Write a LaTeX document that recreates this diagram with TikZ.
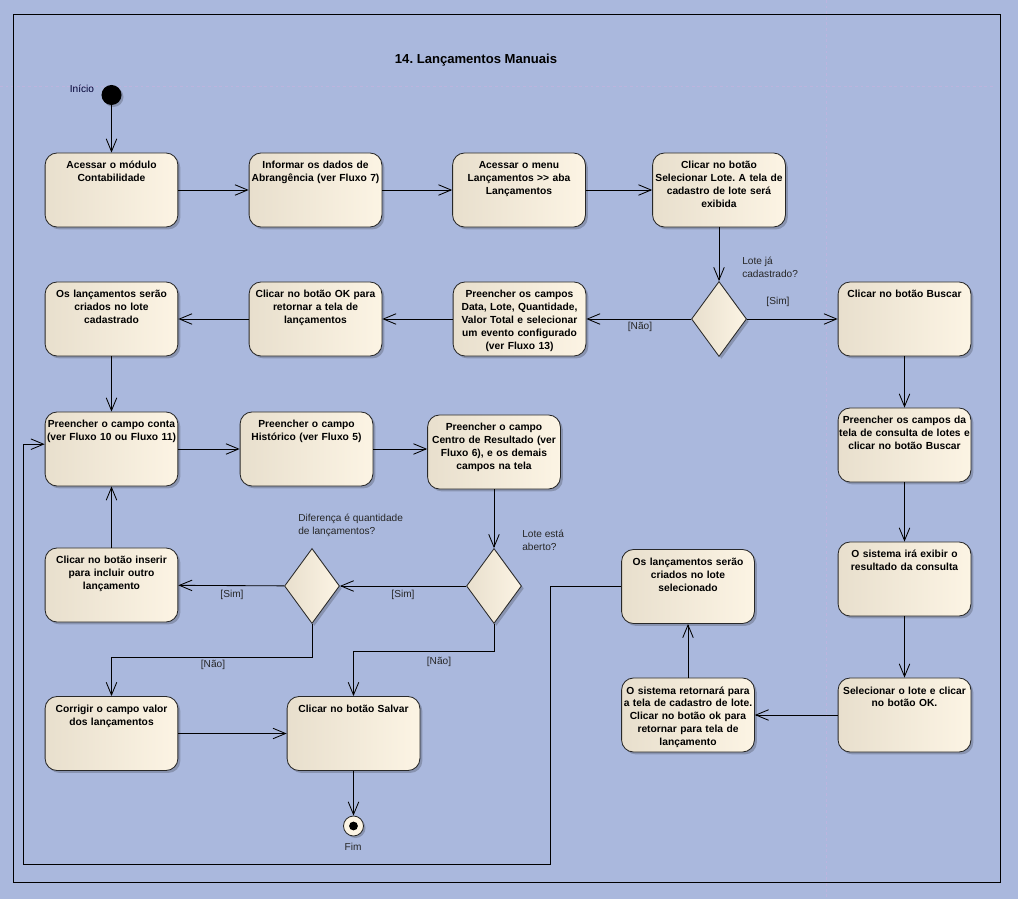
\documentclass[tikz,border=0pt]{standalone}
\usepackage{fontspec}
\setmainfont{Liberation Sans}
\usetikzlibrary{arrows.meta}
\usetikzlibrary{shapes.geometric}
\usetikzlibrary{shadows}
\frenchspacing

\definecolor{bgblue}{RGB}{170,184,221}
\definecolor{gridline}{RGB}{188,180,222}
\definecolor{actleft}{RGB}{232,223,205}
\definecolor{actright}{RGB}{252,244,228}
\definecolor{edgegray}{RGB}{40,40,40}

\begin{document}
\begin{tikzpicture}[x=0.025cm, y=-0.025cm,
        act/.style={draw=edgegray, line width=0.6pt, rounded corners=0.3cm,
            left color=actleft, right color=actright,
            drop shadow={shadow xshift=0.06cm, shadow yshift=-0.06cm, fill=black, opacity=0.2},
            text width=3.3cm, align=center, inner xsep=0.01cm, inner ysep=0.1cm,
            text height=0.3cm, text depth=1.35cm,
            font=\fontsize{7.3}{9.2}\selectfont\bfseries},
        dec/.style={diamond, draw=edgegray, line width=0.6pt,
            left color=actleft, right color=actright,
            drop shadow={shadow xshift=0.06cm, shadow yshift=-0.06cm, fill=black, opacity=0.2},
            minimum width=1.375cm, minimum height=1.875cm, inner sep=0pt},
        initial/.style={circle, fill=black, minimum size=0.5cm, inner sep=0pt,
            drop shadow={shadow xshift=0.05cm, shadow yshift=-0.05cm, fill=black, opacity=0.2}},
        final/.style={circle, draw=edgegray, line width=0.6pt, fill=actright,
            minimum size=0.5cm, inner sep=0pt,
            drop shadow={shadow xshift=0.05cm, shadow yshift=-0.05cm, fill=black, opacity=0.2},
            path picture={\fill[black] (path picture bounding box.center) circle (0.11cm);}},
        lbl/.style={font=\fontsize{7.2}{8.8}\selectfont, text=black!85, inner sep=0pt},
        arr/.style={draw=black, line width=0.6pt, -{Straight Barb[length=9pt,width=7.5pt]}}]

    % background and frame
    \fill[bgblue] (0,0) rectangle (1018,899);
    \useasboundingbox (0,0) rectangle (1018,899);
    \draw[gridline, line width=0.5pt, dash pattern=on 2pt off 2pt] (0,86) -- (993,86);
    \draw[gridline, line width=0.5pt, dash pattern=on 2pt off 2pt] (826,0) -- (826,899);
    \draw[line width=0.7pt] (13,14) rectangle (1000,882);

    \node[inner sep=0pt, font=\fontsize{9.3}{11}\selectfont\bfseries] (title) at (476,60) {14. Lançamentos Manuais};

    % start
    \node[initial] (start) at (111.5,95) {};
    \node[lbl, text=black!80!blue] (startlbl) at (82,89) {Início};

    % first row
    \node[act] (A1) at (111.5,190) {Acessar o módulo\\Contabilidade};
    \node[act] (A2) at (315.5,190) {Informar os dados de\\Abrangência (ver Fluxo 7)};
    \node[act] (A3) at (519,190) {Acessar o menu\\Lançamentos >{}> aba\\Lançamentos};
    \node[act] (A4) at (719,190) {Clicar no botão\\Selecionar Lote. A tela de\\cadastro de lote será\\exibida};

    % second row
    \node[dec] (D1) at (719,319) {};
    \node[lbl, anchor=north west, align=left] (D1q) at (742,257) {Lote já\\cadastrado?};
    \node[act] (B1) at (904.5,319) {Clicar no botão Buscar};
    \node[act] (C3) at (519.5,319) {Preencher os campos\\Data, Lote, Quantidade,\\Valor Total e selecionar\\um evento configurado\\(ver Fluxo 13)};
    \node[act] (C2) at (315.5,319) {Clicar no botão OK para\\retornar a tela de\\lançamentos};
    \node[act] (C1) at (111.5,319) {Os lançamentos serão\\criados no lote\\cadastrado};
    \node[lbl] (D1sim) at (778,302) {[Sim]};
    \node[lbl] (D1nao) at (640,327) {[Não]};

    % third row
    \node[act] (R1) at (111.5,449) {Preencher o campo conta\\(ver Fluxo 10 ou Fluxo 11)};
    \node[act] (R2) at (306.5,449) {Preencher o campo\\Histórico (ver Fluxo 5)};
    \node[act] (R3) at (494,452) {Preencher o campo\\Centro de Resultado (ver\\Fluxo 6), e os demais\\campos na tela};
    \node[act] (B2) at (904.5,445) {Preencher os campos da\\tela de consulta de lotes e\\clicar no botão Buscar};

    % fourth row
    \node[dec] (D3) at (494,586) {};
    \node[lbl, anchor=north west, align=left] (D3q) at (522,530) {Lote está\\aberto?};
    \node[dec] (D2) at (312,586) {};
    \node[lbl, anchor=north west, align=left] (D2q) at (298,514) {Diferença é quantidade\\de lançamentos?};
    \node[act] (L1) at (111.5,585) {Clicar no botão inserir\\para incluir outro\\lançamento};
    \node[act] (B3) at (904.5,579) {O sistema irá exibir o\\resultado da consulta};
    \node[act] (B6) at (688,586.5) {Os lançamentos serão\\criados no lote\\selecionado};
    \node[lbl] (D3sim) at (403,595) {[Sim]};
    \node[lbl] (D2sim) at (232,595) {[Sim]};
    \node[lbl] (D2nao) at (213,665) {[Não]};
    \node[lbl] (D3nao) at (439,662) {[Não]};

    % last row
    \node[act] (L2) at (111.5,733.5) {Corrigir o campo valor\\dos lançamentos};
    \node[act] (S) at (353.5,733.5) {Clicar no botão Salvar};
    \node[act] (B4) at (904.5,715) {Selecionar o lote e clicar\\no botão OK.};
    \node[act] (B5) at (688,715) {O sistema retornará para\\a tela de cadastro de lote.\\Clicar no botão ok para\\retornar para tela de\\lançamento};
    \node[final] (fim) at (353.5,826) {};
    \node[lbl] (fimlbl) at (353,847) {Fim};

    \coordinate (loopR) at (550,864);
    \coordinate (loopL) at (23,864);

    % connectors
    \draw[arr] (start) -- (A1);
    \draw[arr] (A1) -- (A2);
    \draw[arr] (A2) -- (A3);
    \draw[arr] (A3) -- (A4);
    \draw[arr] (A4) -- (D1);
    \draw[arr] (D1) -- (B1);
    \draw[arr] (D1) -- (C3);
    \draw[arr] (C3) -- (C2);
    \draw[arr] (C2) -- (C1);
    \draw[arr] (C1) -- (R1);
    \draw[arr] (R1) -- (R2);
    \draw[arr] (R2.east) -- (R2.east -| R3.west);
    \draw[arr] (R3) -- (D3);
    \draw[arr] (D3) -- (D2);
    \draw[arr] (D2) -- (L1);
    \draw[arr] (L1) -- (R1);
    \draw[arr] (D2.south) -- ++(0,33) -| (L2.north);
    \draw[arr] (D3.south) -- ++(0,27) -| (S.north);
    \draw[arr] (L2) -- (S);
    \draw[arr] (S) -- (fim);
    \draw[arr] (B1) -- (B2);
    \draw[arr] (B2) -- (B3);
    \draw[arr] (B3) -- (B4);
    \draw[arr] (B4) -- (B5);
    \draw[arr] (B5) -- (B6);
    \draw[arr] (B6.west) -| (loopR) -- (loopL) |- ([yshift=0.12cm]R1.west);
\end{tikzpicture}
\end{document}
